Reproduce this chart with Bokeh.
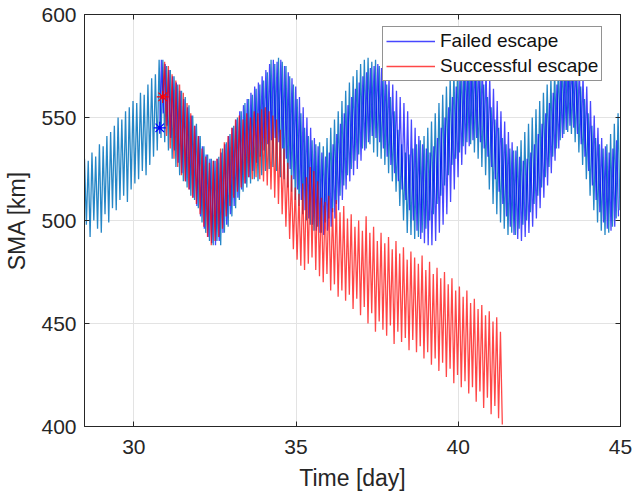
import numpy as np
from bokeh.plotting import figure
from bokeh.models import LinearAxis, FixedTicker, Legend, LegendItem, Range1d
from bokeh.embed import file_html
from bokeh.resources import INLINE

# ---------------- data ----------------
OSC_PERIOD = 0.115          # day, spacing of successive peaks
X_TICKS = [30, 35, 40, 45]
Y_TICKS = [400, 450, 500, 550, 600]

NOMINAL_T0 = 28.48
NOMINAL_PEAKS = [
    530, 529, 533, 531, 537, 536, 541, 543, 546, 550,
    549, 553, 555, 558, 557, 562, 561, 566, 569, 571,
    578, 578, 575, 573, 570, 566, 563, 560, 556, 551,
    547, 541, 536, 532, 530, 529, 531, 535, 538, 542,
    546, 550, 553, 557, 559, 561, 564, 566, 568, 572,
    578, 576, 579, 577, 575, 570, 566, 559, 552, 545,
    541, 539, 537, 538, 536, 540, 545, 549, 553, 558,
    563, 567, 570, 573, 576, 578, 579, 577, 578, 575,
    571, 566, 560, 553, 544, 537, 533, 532, 535, 537,
    539, 541, 545, 548, 552, 557, 561, 565, 569, 572,
    575, 577, 578, 578, 577, 574, 570, 566, 560, 555,
    549, 545, 540, 537, 535, 534, 536, 539, 543, 547,
    550, 554, 558, 562, 566, 569, 573, 576, 578, 578,
    577, 574, 569, 565, 559, 552, 546, 540, 537, 535,
    537, 542, 547, 552]
NOMINAL_TROUGHS = [
    498, 492, 500, 496, 494, 503, 499, 506, 505, 510,
    512, 509, 515, 518, 520, 524, 522, 527, 531, 534,
    540, 538, 534, 530, 526, 522, 519, 516, 512, 510,
    506, 499, 494, 490, 488, 490, 488, 494, 497, 502,
    506, 510, 514, 516, 518, 520, 519, 522, 524, 525,
    526, 524, 521, 520, 516, 514, 510, 507, 503, 500,
    498, 495, 497, 494, 499, 501, 504, 508, 512, 517,
    522, 525, 529, 532, 535, 535, 537, 533, 531, 530,
    527, 523, 519, 514, 507, 500, 494, 493, 491, 492,
    494, 496, 500, 503, 508, 512, 517, 522, 527, 530,
    533, 536, 538, 537, 533, 530, 526, 522, 515, 508,
    503, 499, 496, 493, 494, 493, 496, 498, 500, 504,
    508, 512, 516, 521, 526, 531, 535, 539, 542, 543,
    542, 538, 533, 527, 520, 512, 505, 499, 495, 493,
    494, 497, 501, 505]

FAILED_START_T = 30.80
FAILED_START_SMA = 545
FAILED_T0 = 30.85
FAILED_PEAKS = [
    578, 576, 573, 570, 567, 563, 559, 555, 551, 546,
    541, 536, 532, 530, 529, 530, 533, 537, 541, 545,
    549, 553, 556, 559, 562, 565, 567, 570, 573, 576,
    578, 577, 578, 575, 572, 569, 565, 560, 555, 550,
    545, 540, 536, 533, 531, 533, 537, 542, 547, 552,
    556, 560, 564, 567, 570, 572, 574, 575, 576, 574,
    572, 569, 566, 563, 560, 557, 553, 549, 545, 541,
    537, 535, 533, 536, 540, 545, 550, 555, 560, 565,
    569, 572, 575, 577, 578, 578, 576, 573, 569, 564,
    558, 553, 548, 543, 538, 534, 531, 529, 530, 533,
    537, 542, 547, 552, 557, 562, 566, 570, 573, 576,
    578, 577, 574, 570, 565, 558, 551, 545, 540, 536,
    533, 535, 539]
FAILED_TROUGHS = [
    552, 546, 540, 534, 528, 523, 519, 515, 511, 507,
    502, 496, 492, 489, 488, 490, 494, 498, 503, 507,
    511, 515, 518, 521, 524, 528, 531, 534, 537, 539,
    540, 538, 535, 530, 525, 520, 515, 510, 505, 501,
    498, 495, 494, 493, 495, 497, 501, 505, 510, 515,
    519, 522, 525, 529, 534, 538, 541, 540, 538, 535,
    531, 527, 523, 519, 515, 510, 505, 500, 495, 491,
    489, 488, 488, 490, 494, 498, 503, 509, 515, 521,
    527, 532, 536, 539, 540, 538, 535, 531, 526, 520,
    514, 508, 502, 497, 493, 491, 490, 492, 494, 497,
    501, 506, 511, 517, 523, 529, 535, 540, 544, 546,
    545, 542, 537, 531, 524, 517, 510, 504, 499, 496,
    495, 497, 502]

SUCCESS_START_T = 30.89
SUCCESS_START_SMA = 560
SUCCESS_T0 = 30.95
SUCCESS_PEAKS = [
    577, 575, 571, 568, 566, 562, 557, 552, 546, 541,
    535, 531, 528, 529, 530, 535, 538, 541, 545, 549,
    551, 549, 552, 550, 553, 552, 554, 555, 553, 551,
    549, 544, 535, 528, 522, 516, 513, 518, 521, 526,
    524, 519, 511, 509, 512, 506, 510, 504, 507, 501,
    503, 497, 500, 495, 502, 494, 497, 490, 494, 489,
    492, 486, 490, 484, 487, 481, 485, 482, 479, 483,
    476, 480, 474, 477, 472, 475, 469, 472, 466, 468,
    463, 466, 460, 462, 457, 459, 454, 456, 451, 453,
    446]
SUCCESS_TROUGHS = [
    541, 535, 530, 526, 522, 519, 515, 511, 508, 503,
    497, 492, 488, 490, 492, 496, 502, 507, 511, 514,
    516, 518, 521, 520, 521, 520, 519, 517, 515, 511,
    508, 503, 497, 491, 486, 481, 478, 476, 479, 482,
    476, 473, 470, 474, 466, 469, 463, 466, 461, 464,
    457, 462, 454, 458, 450, 455, 446, 451, 447, 444,
    449, 440, 446, 441, 443, 437, 442, 436, 439, 433,
    436, 430, 433, 427, 431, 424, 428, 421, 425, 419,
    422, 416, 419, 412, 417, 409, 414, 406, 410, 404,
    401]


def zigzag(t0, peaks, troughs, start=None):
    xs, ys = [], []
    if start is not None:
        xs.append(start[0])
        ys.append(start[1])
    for i, (pk, tr) in enumerate(zip(peaks, troughs)):
        t = t0 + i * OSC_PERIOD
        xs += [t, t + OSC_PERIOD / 2]
        ys += [pk, tr]
    return xs, ys


nom_x, nom_y = zigzag(NOMINAL_T0, NOMINAL_PEAKS, NOMINAL_TROUGHS)
fail_x, fail_y = zigzag(FAILED_T0, FAILED_PEAKS, FAILED_TROUGHS,
                        (FAILED_START_T, FAILED_START_SMA))
succ_x, succ_y = zigzag(SUCCESS_T0, SUCCESS_PEAKS, SUCCESS_TROUGHS,
                        (SUCCESS_START_T, SUCCESS_START_SMA))

# ---------------- figure ----------------
FONT = "Liberation Sans"
AX_COL = "#262626"

p = figure(width=632, height=496,
           x_range=Range1d(28.48, 45), y_range=Range1d(400, 600),
           output_backend="svg", toolbar_location=None,
           min_border_left=84, min_border_right=12,
           min_border_top=14, min_border_bottom=70,
           x_axis_label="Time [day]", y_axis_label="SMA [km]")
p.background_fill_color = "white"
p.border_fill_color = "white"
p.outline_line_color = AX_COL
p.outline_line_width = 1

for g in (p.xgrid[0], p.ygrid[0]):
    g.grid_line_color = "#e3e3e3"
    g.grid_line_width = 1
p.xgrid[0].ticker = FixedTicker(ticks=X_TICKS)
p.ygrid[0].ticker = FixedTicker(ticks=Y_TICKS)


def style_axis(ax, ticks, show_labels=True):
    ax.ticker = FixedTicker(ticks=ticks)
    ax.axis_line_color = AX_COL
    ax.major_tick_line_color = AX_COL
    ax.major_tick_in = 5
    ax.major_tick_out = 0
    ax.minor_tick_line_color = None
    ax.major_label_text_font = FONT
    if show_labels:
        ax.major_label_text_color = AX_COL
        ax.major_label_text_font_size = "21px"
    else:
        ax.major_label_text_color = None
        ax.major_label_text_font_size = "0px"
    ax.axis_label_text_font = FONT
    ax.axis_label_text_font_size = "23px"
    ax.axis_label_text_font_style = "normal"
    ax.axis_label_text_color = AX_COL


style_axis(p.xaxis[0], X_TICKS)
style_axis(p.yaxis[0], Y_TICKS)
p.xaxis[0].major_label_standoff = 13
p.xaxis[0].axis_label_standoff = 8
p.yaxis[0].major_label_standoff = 8
p.yaxis[0].axis_label_standoff = 8

top_ax = LinearAxis()
style_axis(top_ax, X_TICKS, show_labels=False)
top_ax.major_label_standoff = 0
p.add_layout(top_ax, "above")
right_ax = LinearAxis()
style_axis(right_ax, Y_TICKS, show_labels=False)
right_ax.major_label_standoff = 0
p.add_layout(right_ax, "right")

r_nom = p.line(nom_x, nom_y, line_color="#0072BD", line_width=1.3, line_alpha=0.85)
r_fail = p.line(fail_x, fail_y, line_color="#0000FF", line_width=1.3, line_alpha=0.72)
r_succ = p.line(succ_x, succ_y, line_color="#FF0000", line_width=1.3, line_alpha=0.72)

p.scatter([FAILED_START_T], [FAILED_START_SMA], marker="asterisk", size=12,
          line_color="#0000FF", line_width=1.2)
p.scatter([SUCCESS_START_T], [SUCCESS_START_SMA], marker="asterisk", size=12,
          line_color="#FF0000", line_width=1.2)

legend = Legend(items=[LegendItem(label="Failed escape", renderers=[r_fail]),
                       LegendItem(label="Successful escape", renderers=[r_succ])],
                location=(298, 345))
legend.label_text_font = FONT
legend.label_text_font_size = "19px"
legend.label_text_color = "#111111"
legend.label_height = 20
legend.glyph_height = 20
legend.glyph_width = 49
legend.label_standoff = 5
legend.spacing = 3
legend.padding = 3
legend.margin = 0
legend.border_line_color = AX_COL
legend.border_line_width = 1
legend.background_fill_color = "white"
legend.background_fill_alpha = 1.0
p.add_layout(legend)

open("out.html", "w").write(file_html(p, INLINE))
